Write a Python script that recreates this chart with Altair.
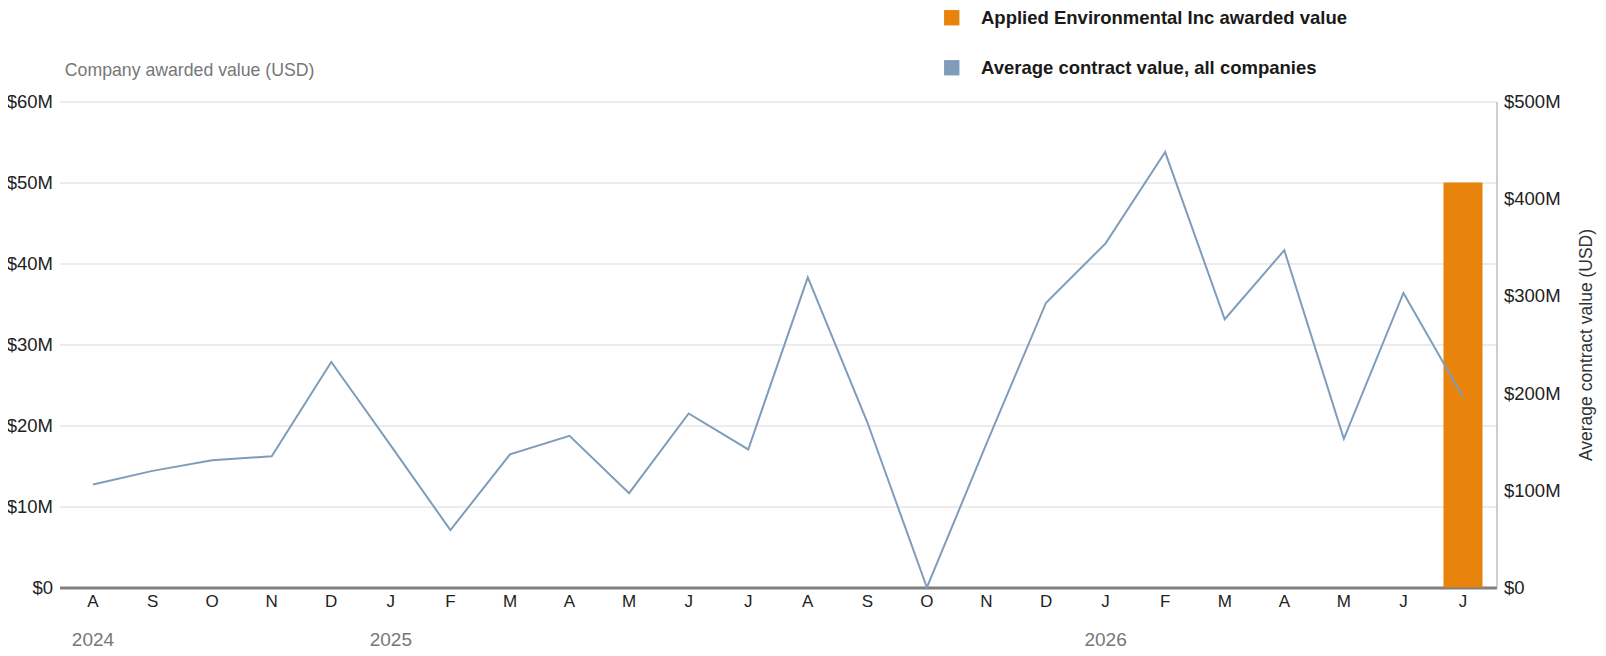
import altair as alt
import pandas as pd

months = ["Aug 2024", "Sep 2024", "Oct 2024", "Nov 2024", "Dec 2024",
          "Jan 2025", "Feb 2025", "Mar 2025", "Apr 2025", "May 2025", "Jun 2025",
          "Jul 2025", "Aug 2025", "Sep 2025", "Oct 2025", "Nov 2025", "Dec 2025",
          "Jan 2026", "Feb 2026", "Mar 2026", "Apr 2026", "May 2026", "Jun 2026",
          "Jul 2026"]
# Company awarded value, USD millions (left axis)
company_awarded = [0, 0, 0, 0, 0, 0, 0, 0, 0, 0, 0, 0,
                   0, 0, 0, 0, 0, 0, 0, 0, 0, 0, 0, 50]
# Average contract value, all companies, USD millions (right axis)
avg_contract = [106, 120, 131, 135, 232, 146, 59, 137, 156, 97, 179, 142,
                319, 170, 0, 148, 293, 354, 448, 276, 347, 153, 303, 196]

year_months = ["Aug 2024", "Jan 2025", "Jan 2026"]
year_labels = ["2024", "2025", "2026"]

series = ["Applied Environmental Inc awarded value",
          "Average contract value, all companies"]
colors = ["#E8830C", "#7F9DBB"]

left_ticks = [0, 10, 20, 30, 40, 50, 60]
right_ticks = [0, 100, 200, 300, 400, 500]

bars_df = pd.DataFrame({"month": months, "value": company_awarded, "series": series[0]})
line_df = pd.DataFrame({"month": months, "value": avg_contract, "series": series[1]})
years_df = pd.DataFrame({"month": year_months, "label": year_labels})

money_expr = "datum.value == 0 ? '$0' : '$' + datum.value + 'M'"

x_enc = alt.X(
    "month:N",
    scale=alt.Scale(domain=months, paddingInner=0.345, paddingOuter=0.235),
    axis=alt.Axis(
        title=None, labelExpr="substring(datum.value, 0, 1)", labelAngle=0,
        ticks=False, grid=False, domainColor="#808080", domainWidth=3,
        labelFont="Liberation Sans", labelFontSize=17, labelColor="#222222",
        labelPadding=6,
    ),
)

legend = alt.Legend(
    title=None, orient="none", legendX=883, legendY=-93, direction="vertical",
    symbolType="square", symbolSize=236, symbolStrokeWidth=0, symbolOpacity=1,
    labelFont="Liberation Sans", labelFontWeight="bold", labelFontSize=18.5,
    labelColor="#1a1a1a", labelLimit=0, labelOffset=20, rowPadding=31, padding=0,
)
color_scale = alt.Scale(domain=series, range=colors)

bars = alt.Chart(bars_df).mark_bar().encode(
    x=x_enc,
    y=alt.Y(
        "value:Q", scale=alt.Scale(domain=[0, 60]),
        axis=alt.Axis(
            orient="left", values=left_ticks, labelExpr=money_expr, grid=True,
            gridColor="#d9d9d9", gridWidth=1, domain=False, ticks=False, labelPadding=7,
            labelFont="Liberation Sans", labelFontSize=18.5, labelColor="#222222",
            title="Company awarded value (USD)", titleAngle=0, titleAlign="left",
            titleBaseline="middle", titleX=4.8, titleY=-31.5, titleFont="Liberation Sans",
            titleFontSize=17.7, titleFontWeight="normal", titleColor="#777777",
        ),
    ),
    color=alt.Color("series:N", scale=color_scale, legend=legend),
)

line = alt.Chart(line_df).mark_line(strokeWidth=2).encode(
    x=x_enc,
    y=alt.Y(
        "value:Q", scale=alt.Scale(domain=[0, 500]),
        axis=alt.Axis(
            orient="right", values=right_ticks, labelExpr=money_expr, grid=False,
            domain=True, domainColor="#a0a0a0", domainWidth=1, ticks=False, labelPadding=7,
            labelFont="Liberation Sans", labelFontSize=18.5, labelColor="#222222",
            title="Average contract value (USD)", titleAngle=270, titleAlign="center",
            titleBaseline="middle", titleX=90, titleY=243, titleFont="Liberation Sans",
            titleFontSize=17.5, titleFontWeight="normal", titleColor="#333333",
        ),
    ),
    color=alt.Color("series:N", scale=color_scale, legend=None),
)

years = alt.Chart(years_df).mark_text(
    font="Liberation Sans", fontSize=19, color="#777777", baseline="middle", align="center"
).encode(
    x=x_enc,
    y=alt.value(538),
    text="label:N",
)

chart = alt.layer(bars, line, years).resolve_scale(y="independent").properties(
    width=1437, height=486,
    autosize=alt.AutoSizeParams(type="none"),
    padding={"left": 51.5, "top": 93.5, "right": 101.5, "bottom": 60.5},
).configure_view(stroke=None)

chart.save("out.html", embed_options={"renderer": "svg", "actions": False})
